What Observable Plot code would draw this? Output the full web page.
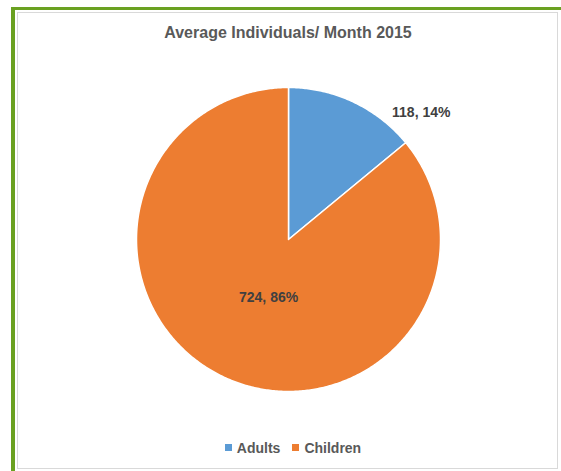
<!DOCTYPE html>
<html>
<head>
<meta charset="utf-8">
<script src="https://cdn.jsdelivr.net/npm/d3@7"></script>
<script src="https://cdn.jsdelivr.net/npm/@observablehq/plot@0.6"></script>
<style>
  html, body { margin: 0; padding: 0; background: #fff; }
  #page { position: relative; width: 561px; height: 471px; overflow: hidden; font-family: "Liberation Sans", Arial, sans-serif; }
  #green { position: absolute; left: 11px; top: 7px; width: 560px; height: 480px; border-left: 4px solid #6aa121; border-top: 3px solid #6aa121; box-sizing: border-box; }
  #frame { position: absolute; left: 17px; top: 12px; width: 541px; height: 457px; border: 1px solid #d9d9d9; box-sizing: border-box; }
  #title { position: absolute; left: 0; width: 576px; top: 24px; text-align: center; font-weight: bold; font-size: 16px; color: #595959; }
  #chart { position: absolute; left: 0; top: 0; }
  #legend { position: absolute; left: 0; width: 586px; top: 440px; text-align: center; font-weight: bold; font-size: 14px; color: #595959; }
  #legend span.item { margin: 0 6px; }
  #legend span.sw { display: inline-block; width: 7px; height: 7px; margin-right: 5px; vertical-align: 2px; }
</style>
</head>
<body>
<div id="page">
  <div id="green"></div>
  <div id="frame"></div>
  <div id="title">Average Individuals/ Month 2015</div>
  <div id="chart"></div>
  <div id="legend"></div>
</div>
<script>
const categories = ["Adults", "Children"];
const values = [118, 724];
const percentLabels = ["14%", "86%"];
const colors = ["#5B9BD5", "#ED7D31"];

const pie = d3.pie().sort(null).value(d => d.value)(categories.map((c, i) => ({category: c, value: values[i], pct: percentLabels[i]})));

// Build slice polygons (angle 0 at top, clockwise)
const polys = [];
pie.forEach(p => {
  const n = Math.max(2, Math.ceil((p.endAngle - p.startAngle) / 0.01));
  polys.push({category: p.data.category, x: 0, y: 0});
  for (let k = 0; k <= n; k++) {
    const a = p.startAngle + (p.endAngle - p.startAngle) * k / n;
    polys.push({category: p.data.category, x: Math.sin(a), y: Math.cos(a)});
  }
  polys.push({category: p.data.category, x: 0, y: 0});
});

// label layout (radial factor, and pixel nudges)
const labelLayout = {Adults: {r: 1.2, dx: 55, dy: 38}, Children: {r: 0.4, dx: 6, dy: 3}};
const labels = pie.map(p => {
  const mid = (p.startAngle + p.endAngle) / 2;
  const L = labelLayout[p.data.category];
  return {category: p.data.category, text: `${p.data.value}, ${p.data.pct}`, x: L.r * Math.sin(mid), y: L.r * Math.cos(mid), dx: L.dx, dy: L.dy};
});

const chart = Plot.plot({
  width: 561,
  height: 471,
  margin: 0,
  x: {domain: [-1, 1], range: [136, 440], axis: null},
  y: {domain: [-1, 1], range: [391, 87], axis: null},
  color: {domain: categories, range: colors},
  style: {background: "transparent", overflow: "visible"},
  marks: [
    Plot.line(polys, {x: "x", y: "y", z: "category", fill: "category", stroke: "white", strokeWidth: 1.5, curve: "linear"}),
    ...labels.map(l => Plot.text([l], {x: "x", y: "y", text: "text", dx: l.dx, dy: l.dy, fill: "#404040", fontSize: 14, fontWeight: "bold", fontFamily: "Liberation Sans, Arial, sans-serif"}))
  ]
});
document.getElementById("chart").appendChild(chart);

const legend = document.getElementById("legend");
categories.forEach((c, i) => {
  const item = document.createElement("span");
  item.className = "item";
  const sw = document.createElement("span");
  sw.className = "sw";
  sw.style.background = colors[i];
  item.appendChild(sw);
  item.appendChild(document.createTextNode(c));
  legend.appendChild(item);
});
</script>
</body>
</html>
